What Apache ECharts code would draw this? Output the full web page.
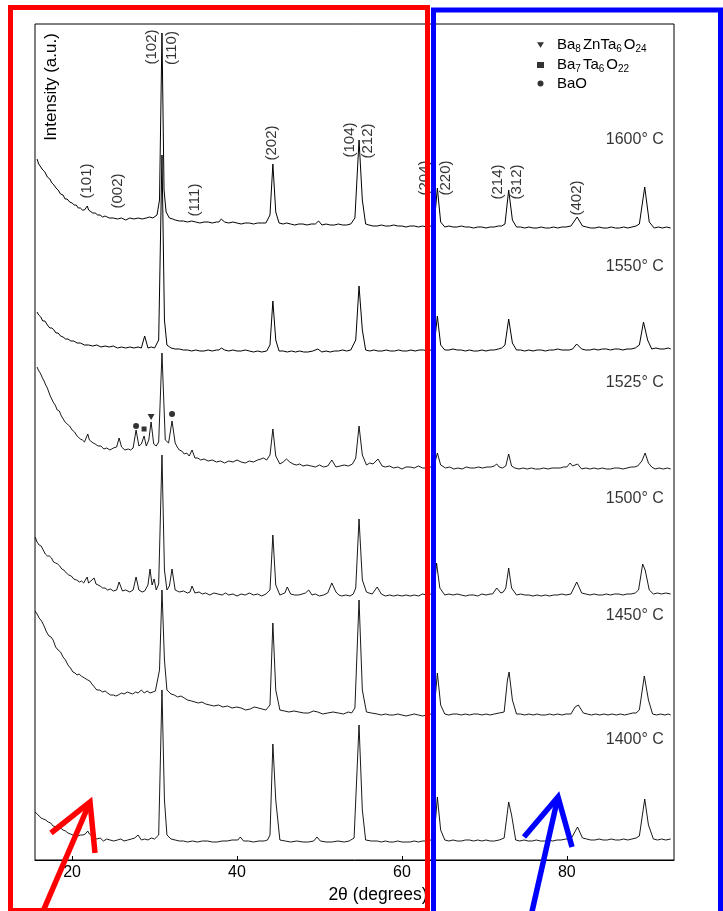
<!DOCTYPE html>
<html><head><meta charset="utf-8">
<script src="https://cdn.jsdelivr.net/npm/echarts@6/dist/echarts.min.js"></script>
<style>html,body{margin:0;padding:0;background:#fff}#c{width:723px;height:911px}</style>
</head><body><div id="c"></div>
<script>
// Temperatures (top to bottom) and stacking offsets (a.u.)
const temperatures = ['1600° C', '1550° C', '1525° C', '1500° C', '1450° C', '1400° C'];
const offsets = [633, 510, 392, 265, 146, 20];
const tempLabelHeight = [87, 83, 85, 96, 98, 100];

// Patterns: [2θ, intensity above baseline]
const p1600 = [[15.75,68],[15.95,63],[16.2,60],[16.45,57],[16.7,55],[17.0,50],[17.3,48],[17.55,44],[17.8,42],[18.05,39],[18.3,37],[18.6,33],[18.9,32],[19.15,28],[19.4,28],[19.7,25],[20.0,24],[20.25,22],[20.5,22],[20.75,19],[21.0,19],[21.25,17],[21.5,17],[21.7,19],[21.85,21],[22.0,17],[22.2,15],[22.5,14],[22.8,14],[23.1,12],[23.4,12],[23.7,10],[24.0,11],[24.5,9],[25.0,9],[25.5,8],[26.0,9],[26.5,7],[27.0,9],[27.5,8],[28.0,9],[28.5,8],[29.0,9],[29.4,10],[29.8,9],[30.3,12],[30.6,27],[30.9,194],[31.15,37],[31.4,15],[31.8,9],[32.2,8],[32.5,7],[33.0,6],[33.5,6],[34.0,5],[34.5,6],[35.0,5],[35.5,4],[36.0,5],[36.5,5],[37.0,4],[37.5,5],[37.8,5],[38.1,8],[38.5,5],[39.0,4],[39.5,5],[40.0,4],[40.5,3],[41.0,4],[41.5,4],[42.0,3],[42.5,4],[43.0,4],[43.5,4],[44.0,12],[44.35,63],[44.7,15],[45.1,4],[45.6,3],[46.0,4],[46.5,3],[47.0,2],[47.5,3],[48.0,3],[48.5,2],[49.0,3],[49.5,3],[49.9,6],[50.3,2],[50.8,3],[51.3,2],[51.8,2],[52.3,3],[52.8,2],[53.3,2],[53.8,3],[54.3,9],[54.8,87],[55.2,27],[55.6,3],[56.0,2],[56.5,1],[57.0,1],[57.5,2],[58.0,1],[58.5,1],[59.0,2],[59.5,1],[60.0,1],[60.5,0],[61.0,1],[61.5,1],[62.0,0],[62.5,1],[63.0,0],[63.5,1],[63.9,2],[64.3,39],[64.7,5],[65.2,0],[65.7,1],[66.2,0],[66.7,0],[67.2,1],[67.7,0],[68.2,0],[68.7,-1],[69.2,0],[69.7,0],[70.2,-1],[70.7,0],[71.2,0],[71.7,1],[72.1,1],[72.5,3],[72.95,37],[73.4,7],[73.9,0],[74.4,0],[74.9,-1],[75.4,0],[75.9,-1],[76.4,-1],[76.9,0],[77.4,-1],[77.9,-1],[78.4,0],[78.9,-1],[79.4,0],[79.9,0],[80.5,1],[81.25,10],[81.9,1],[82.4,0],[82.9,-1],[83.4,-1],[83.9,0],[84.4,-1],[84.9,-1],[85.4,0],[85.9,-1],[86.4,-1],[86.9,0],[87.4,-1],[87.9,0],[88.4,1],[88.8,3],[89.45,40],[90.0,5],[90.6,-1],[91.1,0],[91.6,-1],[92.1,0],[92.6,-1]];
const p1550 = [[15.75,38],[15.95,35],[16.2,33],[16.45,29],[16.7,29],[17.0,25],[17.3,22],[17.55,22],[17.8,20],[18.05,17],[18.3,17],[18.6,14],[18.9,13],[19.2,11],[19.5,11],[19.85,9],[20.2,9],[20.6,7],[21.0,7],[21.5,5],[22.0,5],[22.5,4],[23.0,5],[23.5,3],[24.0,4],[24.5,3],[25.0,4],[25.5,2],[26.0,3],[26.5,2],[27.0,3],[27.5,2],[28.0,3],[28.4,2],[28.8,14],[29.2,2],[29.6,3],[30.0,2],[30.5,10],[30.9,195],[31.2,30],[31.5,5],[32.0,2],[32.5,1],[33.0,1],[33.5,0],[34.0,0],[34.5,-1],[35.0,0],[35.5,-1],[36.0,-1],[36.5,0],[37.0,-1],[37.5,0],[37.8,0],[38.1,2],[38.5,0],[39.0,-1],[39.5,0],[40.0,-1],[40.5,-1],[41.0,0],[41.5,-1],[42.0,-2],[42.5,-1],[43.0,-2],[43.6,-1],[44.0,5],[44.35,49],[44.7,10],[45.1,-1],[45.6,-1],[46.1,-2],[46.6,-1],[47.1,-2],[47.6,-1],[48.1,-2],[48.6,-2],[49.2,-1],[49.8,1],[50.3,-2],[50.8,-1],[51.3,-2],[51.8,-1],[52.3,-1],[52.8,0],[53.3,-1],[53.8,0],[54.4,10],[54.8,64],[55.2,20],[55.6,0],[56.1,-1],[56.6,0],[57.1,-1],[57.6,-1],[58.1,0],[58.6,-1],[59.1,-1],[59.6,0],[60.1,-1],[60.6,-1],[61.1,0],[61.6,-1],[62.1,0],[62.6,0],[63.1,-1],[63.5,0],[63.9,3],[64.3,34],[64.7,5],[65.2,0],[65.7,0],[66.2,1],[66.7,0],[67.2,0],[67.7,-1],[68.2,0],[68.7,-1],[69.2,-1],[69.7,0],[70.2,-1],[70.7,0],[71.2,0],[71.7,1],[72.1,2],[72.5,5],[72.95,31],[73.4,7],[73.9,0],[74.4,0],[74.9,-1],[75.4,0],[75.9,-1],[76.4,0],[76.9,0],[77.4,-1],[77.9,0],[78.4,0],[78.9,1],[79.4,0],[79.9,0],[80.3,0],[80.7,1],[81.2,6],[81.8,1],[82.3,0],[82.8,0],[83.3,1],[83.8,0],[84.3,1],[84.8,1],[85.3,0],[85.8,1],[86.3,1],[86.8,0],[87.3,1],[87.8,1],[88.3,2],[88.8,5],[89.3,28],[89.8,10],[90.3,1],[90.8,2],[91.3,1],[91.8,1],[92.3,2],[92.6,1]];
const p1525 = [[15.75,101],[15.9,98],[16.0,96],[16.2,94],[16.4,90],[16.6,87],[16.8,83],[17.0,80],[17.15,78],[17.3,73],[17.5,72],[17.7,66],[17.95,63],[18.2,58],[18.45,57],[18.7,52],[18.9,51],[19.15,46],[19.4,44],[19.7,42],[20.0,38],[20.3,36],[20.6,32],[20.8,31],[21.0,29],[21.25,28],[21.5,26],[21.7,28],[21.9,34],[22.1,28],[22.3,27],[22.55,25],[22.8,24],[23.15,22],[23.5,22],[23.85,19],[24.2,20],[24.6,18],[25.0,20],[25.4,21],[25.7,30],[26.0,21],[26.4,18],[26.8,19],[27.1,18],[27.4,20],[27.76,38],[28.1,22],[28.4,24],[28.73,32],[29.0,22],[29.3,28],[29.58,46],[29.9,24],[30.2,22],[30.5,26],[30.9,115],[31.3,28],[31.7,25],[32.12,47],[32.5,25],[32.75,21],[33.0,18],[33.3,17],[33.6,14],[33.9,15],[34.2,12],[34.55,18],[34.9,10],[35.25,10],[35.6,8],[36.0,9],[36.5,7],[37.0,8],[37.5,6],[38.0,7],[38.5,5],[39.0,7],[39.5,6],[40.0,8],[40.5,6],[41.0,5],[41.5,7],[42.0,6],[42.5,8],[42.9,9],[43.2,10],[43.6,8],[44.0,13],[44.35,39],[44.7,12],[45.2,4],[45.6,6],[46.0,9],[46.4,6],[46.8,4],[47.2,3],[47.6,4],[48.0,2],[48.5,3],[49.0,2],[49.5,1],[50.0,3],[50.5,1],[51.0,2],[51.5,8],[52.0,1],[52.5,2],[53.0,3],[53.5,2],[54.0,4],[54.4,10],[54.8,42],[55.2,13],[55.7,3],[56.1,5],[56.5,4],[57.1,9],[57.6,2],[58.0,1],[58.5,2],[59.0,0],[59.5,1],[60.0,-1],[60.5,1],[61.0,1],[61.5,0],[62.0,2],[62.5,0],[63.0,0],[63.5,1],[63.9,2],[64.3,15],[64.7,3],[65.3,0],[65.8,1],[66.3,-1],[66.8,0],[67.3,-1],[67.8,1],[68.3,0],[68.8,0],[69.3,1],[69.8,0],[70.3,1],[70.8,1],[71.2,2],[71.5,4],[71.8,1],[72.2,0],[72.6,2],[72.95,14],[73.3,2],[73.7,0],[74.2,-1],[74.7,0],[75.2,-1],[75.7,0],[76.2,-1],[76.7,-1],[77.2,0],[77.7,-1],[78.2,0],[78.7,0],[79.2,0],[79.6,1],[80.0,1],[80.4,5],[80.7,2],[80.9,1],[81.3,4],[81.8,-1],[82.3,0],[82.8,-1],[83.3,0],[83.8,-1],[84.3,0],[84.8,-1],[85.3,-1],[85.8,0],[86.3,0],[86.8,-1],[87.3,0],[87.8,1],[88.2,1],[88.6,2],[89.1,7],[89.5,15],[89.9,5],[90.3,1],[90.7,-1],[91.2,0],[91.7,-1],[92.2,0],[92.6,-1]];
const p1500 = [[15.52,58],[15.75,53],[16.0,50],[16.25,49],[16.5,45],[16.75,41],[17.0,39],[17.25,39],[17.5,37],[17.75,33],[18.0,32],[18.25,31],[18.5,29],[18.75,26],[19.0,25],[19.3,22],[19.6,20],[19.9,19],[20.2,16],[20.55,15],[20.9,13],[21.15,14],[21.4,12],[21.82,18],[22.0,12],[22.2,11],[22.67,17],[22.9,11],[23.1,9],[23.4,9],[23.7,7],[24.0,7],[24.3,5],[24.65,6],[25.0,4],[25.4,5],[25.7,13],[26.1,4],[26.5,5],[27.0,3],[27.4,5],[27.76,18],[28.1,5],[28.5,3],[28.8,4],[29.2,10],[29.45,26],[29.7,10],[29.95,16],[30.2,5],[30.5,11],[30.9,140],[31.2,25],[31.5,5],[31.8,9],[32.12,26],[32.5,5],[32.75,4],[33.0,3],[33.5,4],[34.0,2],[34.3,3],[34.55,9],[34.9,2],[35.4,3],[35.8,1],[36.2,2],[36.7,0],[37.2,2],[37.7,1],[38.2,0],[38.6,2],[39.0,0],[39.5,1],[40.0,-1],[40.5,1],[41.0,0],[41.5,2],[42.0,0],[42.5,1],[43.0,-1],[43.5,1],[44.0,5],[44.35,60],[44.7,10],[45.2,0],[45.5,1],[45.8,2],[46.1,8],[46.5,1],[47.0,0],[47.5,0],[47.9,1],[48.3,2],[48.7,5],[49.1,0],[49.5,1],[50.0,-1],[50.5,0],[51.0,2],[51.5,12],[52.0,3],[52.35,0],[52.7,-1],[53.2,0],[53.7,-1],[54.1,1],[54.4,7],[54.8,76],[55.2,15],[55.7,3],[56.0,2],[56.4,1],[57.0,8],[57.5,1],[58.0,-1],[58.5,0],[59.0,-1],[59.5,0],[60.0,-1],[60.5,0],[61.0,-1],[61.5,0],[62.0,-1],[62.5,1],[63.0,0],[63.5,1],[63.9,3],[64.2,32],[64.6,7],[65.2,0],[65.7,1],[66.2,0],[66.7,1],[67.2,0],[67.7,-1],[68.2,0],[68.7,0],[69.2,-1],[69.7,1],[70.2,0],[70.7,1],[71.0,1],[71.5,7],[72.0,2],[72.3,3],[72.6,7],[72.95,27],[73.3,7],[73.9,0],[74.4,1],[74.9,0],[75.4,0],[75.9,-1],[76.4,0],[76.9,-1],[77.4,0],[77.9,-1],[78.4,0],[78.9,0],[79.4,1],[79.9,0],[80.5,1],[81.2,13],[81.8,2],[82.3,1],[82.8,0],[83.3,1],[83.8,0],[84.3,0],[84.8,1],[85.3,0],[85.8,1],[86.3,1],[86.8,0],[87.3,1],[87.8,1],[88.3,2],[88.7,5],[89.2,31],[89.5,25],[90.0,5],[90.5,1],[91.0,2],[91.5,1],[92.0,2],[92.6,1]];
const p1450 = [[15.52,103],[15.75,100],[16.0,96],[16.3,93],[16.6,88],[16.9,82],[17.2,78],[17.45,77],[17.7,74],[18.0,67],[18.3,64],[18.6,62],[18.9,57],[19.2,54],[19.5,49],[19.8,46],[20.1,42],[20.35,41],[20.6,39],[20.85,40],[21.1,38],[21.3,37],[21.5,36],[21.7,37],[21.9,34],[22.15,33],[22.4,30],[22.7,27],[23.0,24],[23.35,24],[23.7,22],[24.0,23],[24.3,21],[24.65,19],[25.0,19],[25.3,18],[25.6,19],[26.0,21],[26.3,20],[26.7,22],[27.0,21],[27.35,20],[27.7,22],[28.0,21],[28.4,24],[28.75,21],[29.1,23],[29.45,21],[29.8,22],[30.1,23],[30.3,24],[30.6,44],[30.9,124],[31.2,54],[31.5,24],[31.75,22],[32.0,20],[32.4,19],[32.8,17],[33.2,18],[33.6,16],[34.0,14],[34.5,13],[34.9,12],[35.3,11],[35.75,12],[36.2,10],[36.7,9],[37.2,8],[37.75,9],[38.3,7],[38.85,8],[39.4,6],[39.95,7],[40.5,6],[41.05,4],[41.6,5],[42.1,7],[42.6,6],[43.05,5],[43.5,4],[44.0,9],[44.35,91],[44.7,24],[45.2,4],[45.75,3],[46.3,2],[46.9,3],[47.5,2],[48.1,1],[48.7,1],[49.25,3],[49.8,2],[50.4,0],[51.0,1],[51.65,2],[52.3,1],[52.9,0],[53.5,2],[53.9,1],[54.3,6],[54.8,114],[55.2,24],[55.7,2],[56.3,1],[57.0,0],[57.5,-1],[58.0,0],[58.5,-1],[59.0,-1],[59.5,0],[60.0,-1],[60.5,-2],[61.0,-1],[61.5,0],[62.0,-1],[62.5,-2],[63.0,-1],[63.5,0],[63.9,3],[64.3,41],[64.7,9],[65.2,0],[65.7,-1],[66.2,0],[66.7,0],[67.2,-1],[67.7,0],[68.2,-1],[68.7,0],[69.2,0],[69.7,-1],[70.2,0],[70.7,-1],[71.2,0],[71.8,1],[72.4,2],[72.8,34],[73.0,42],[73.4,14],[73.9,0],[74.4,0],[74.9,-1],[75.4,0],[75.9,-1],[76.4,0],[76.9,-1],[77.4,-1],[77.9,0],[78.4,-1],[78.9,0],[79.4,-1],[79.9,0],[80.5,0],[81.0,7],[81.4,9],[82.0,1],[82.5,0],[83.0,-1],[83.5,0],[84.0,-1],[84.5,0],[85.0,-1],[85.5,0],[86.0,-1],[86.5,0],[87.0,-1],[87.5,0],[88.0,1],[88.4,1],[88.8,4],[89.4,38],[89.9,14],[90.4,0],[90.9,-1],[91.4,0],[91.9,-1],[92.3,0],[92.6,-1]];
const p1400 = [[15.52,28],[15.75,26],[16.0,24],[16.25,22],[16.5,21],[16.8,20],[17.1,18],[17.4,17],[17.7,14],[18.0,13],[18.3,11],[18.6,12],[18.9,10],[19.2,9],[19.5,7],[19.8,6],[20.1,5],[20.4,6],[20.7,4],[21.0,5],[21.3,5],[21.6,6],[21.9,9],[22.1,6],[22.3,4],[22.65,3],[23.0,1],[23.4,2],[23.8,-1],[24.2,1],[24.6,0],[25.05,-1],[25.5,0],[25.9,1],[26.3,-1],[26.75,0],[27.2,1],[27.6,2],[28.0,5],[28.4,0],[28.8,1],[29.2,0],[29.6,2],[30.0,1],[30.5,5],[30.9,150],[31.2,40],[31.5,5],[32.0,1],[32.5,0],[33.0,-1],[33.5,-1],[34.0,-2],[34.6,-1],[35.2,-2],[35.8,-1],[36.4,-1],[37.0,-2],[37.6,-2],[38.2,-1],[38.8,-1],[39.4,0],[40.1,0],[40.4,3],[40.8,-1],[41.4,-1],[42.0,-2],[42.65,-1],[43.3,-1],[43.7,0],[44.0,5],[44.35,96],[44.7,40],[45.2,0],[45.85,-1],[46.5,-2],[47.25,-1],[48.0,-2],[48.65,-2],[49.3,-1],[49.7,3],[50.1,-1],[50.8,-2],[51.5,-2],[52.25,-1],[53.0,-2],[53.6,-1],[54.2,2],[54.8,115],[55.2,30],[55.6,0],[56.3,-1],[57.0,-1],[57.5,-2],[58.0,-1],[58.5,-2],[59.0,-2],[59.5,-1],[60.0,-2],[60.5,-2],[61.0,-2],[61.5,-1],[62.0,-2],[62.5,-1],[63.0,-1],[63.5,0],[63.9,2],[64.3,43],[64.7,10],[65.2,0],[65.7,-1],[66.2,0],[66.7,-1],[67.2,-1],[67.7,0],[68.2,0],[68.7,-1],[69.2,0],[69.7,-1],[70.2,0],[70.7,-1],[71.2,-1],[71.8,0],[72.4,2],[72.95,38],[73.3,25],[73.8,0],[74.3,-1],[74.8,0],[75.3,-1],[75.8,-1],[76.3,0],[76.8,-1],[77.3,-1],[77.8,0],[78.3,-1],[78.8,0],[79.3,0],[79.9,1],[80.5,1],[81.3,13],[81.9,2],[82.4,1],[82.9,0],[83.4,0],[83.9,1],[84.4,0],[84.9,0],[85.4,1],[85.9,0],[86.4,0],[86.9,1],[87.4,0],[87.9,1],[88.4,2],[88.8,4],[89.45,41],[89.9,15],[90.5,1],[91.0,0],[91.5,1],[92.0,0],[92.6,1]];
const patterns = [p1600, p1550, p1525, p1500, p1450, p1400];

// Reflection indices on the 1600 °C pattern
const hklNames = ['(101)','(002)','(102)','(110)','(111)','(202)','(104)','(212)','(204)','(220)','(214)','(312)','(402)'];
const hklTth = [21.82, 25.58, 29.70, 32.12, 34.91, 44.24, 53.70, 55.88, 62.79, 65.33, 71.64, 73.94, 81.21];
const hklHeight = [46, 36, 180, 179, 27, 84, 87, 86, 49, 49, 45, 45, 29];

// Secondary phase markers on the 1525 °C pattern
const phaseNames = ['Ba8ZnTa6O24', 'Ba7Ta6O22', 'BaO'];
const markerPhase = ['BaO', 'Ba7Ta6O22', 'Ba8ZnTa6O24', 'BaO'];
const markerTth = [27.76, 28.73, 29.58, 32.12];
const markerHeight = [42, 39, 51, 54];

const xTicks = [20, 40, 60, 80];

const FONT = '"Liberation Sans", Arial, Helvetica, sans-serif';
const chart = echarts.init(document.getElementById('c'), null, {renderer: 'canvas'});

const lineSeries = patterns.map((pts, i) => ({
  name: temperatures[i], type: 'line', symbol: 'none', silent: true,
  data: pts.map(p => [p[0], p[1] + offsets[i]]),
  lineStyle: {color: '#000', width: i < 2 ? 1 : 0.9}, z: 2
}));

const symbolOf = {'Ba8ZnTa6O24': 'triangle', 'Ba7Ta6O22': 'rect', 'BaO': 'circle'};
const sizeOf = {'Ba8ZnTa6O24': [7, 6], 'Ba7Ta6O22': 5, 'BaO': 6};
const markerSeries = phaseNames.map(ph => ({
  name: ph, type: 'scatter', symbol: symbolOf[ph], symbolSize: sizeOf[ph],
  symbolRotate: ph === 'Ba8ZnTa6O24' ? 180 : 0, silent: true,
  itemStyle: {color: '#000'},
  data: markerTth.map((t, k) => markerPhase[k] === ph ? [t, offsets[2] + markerHeight[k]] : null).filter(Boolean),
  z: 3
}));

const hklSeries = {
  type: 'scatter', symbolSize: 0, silent: true,
  data: hklNames.map((n, k) => ({name: n, value: [hklTth[k], offsets[0] + hklHeight[k]]})),
  label: {show: true, position: 'inside', rotate: 90, formatter: p => p.name,
    fontFamily: FONT, fontSize: 15, color: '#000', align: 'center', verticalAlign: 'middle'},
  z: 4
};

const tempSeries = {
  type: 'scatter', symbolSize: 0, silent: true,
  data: temperatures.map((n, k) => ({name: n, value: [91.76, offsets[k] + tempLabelHeight[k]]})),
  label: {show: true, position: 'inside', formatter: p => p.name,
    fontFamily: FONT, fontSize: 16, color: '#000', align: 'right', verticalAlign: 'middle'},
  z: 4
};

const legendRich = {
  'Ba8ZnTa6O24': '{n|Ba}{s|8}{n|ZnTa}{s|6}{n|O}{s|24}',
  'Ba7Ta6O22': '{n|Ba}{s|7}{n|Ta}{s|6}{n|O}{s|22}',
  'BaO': '{n|BaO}'
};

chart.setOption({
  animation: false,
  backgroundColor: '#fff',
  textStyle: {fontFamily: FONT},
  grid: {left: 35, right: 49, top: 24, bottom: 51, show: true, borderColor: '#000', borderWidth: 1, backgroundColor: 'transparent'},
  xAxis: {
    type: 'value', min: 15.5, max: 93.0,
    name: '2θ (degrees)', nameLocation: 'middle', nameGap: 24,
    nameTextStyle: {fontFamily: FONT, fontSize: 17.5, color: '#000', padding: [0, 0, 0, 47]},
    axisLine: {show: true, lineStyle: {color: '#000', width: 1}},
    axisTick: {show: true, inside: true, length: 4, customValues: xTicks, lineStyle: {color: '#000'}},
    axisLabel: {show: true, customValues: xTicks, fontFamily: FONT, fontSize: 16, color: '#000', margin: 5},
    splitLine: {show: false}
  },
  yAxis: {type: 'value', min: 0, max: 836, show: false, splitLine: {show: false}},
  legend: {
    data: [
      {name: 'Ba8ZnTa6O24', icon: 'path://M0,0L10,0L5,8Z'},
      {name: 'Ba7Ta6O22', icon: 'rect'},
      {name: 'BaO', icon: 'circle'}
    ],
    orient: 'vertical', left: 537, top: 36, padding: 0, itemGap: 2,
    itemWidth: 7, itemHeight: 6, selectedMode: false,
    formatter: n => legendRich[n],
    textStyle: {color: '#000', padding: [0, 0, 0, 8],
      rich: {
        n: {fontFamily: FONT, fontSize: 15, lineHeight: 18, color: '#000', verticalAlign: 'middle'},
        s: {fontFamily: FONT, fontSize: 10, lineHeight: 18, color: '#000', verticalAlign: 'middle', padding: [8, 2, 0, 0]}
      }}
  },
  series: [...lineSeries, ...markerSeries, hklSeries, tempSeries],
  graphic: [
    {type: 'text', x: 51, y: 87, rotation: Math.PI / 2, z: 10,
      style: {text: 'Intensity (a.u.)', font: '17px ' + FONT, fill: '#000', align: 'center', verticalAlign: 'middle'}},
    {type: 'rect', z: 100, silent: true, shape: {x: 10.5, y: 7.5, width: 417, height: 903},
      style: {fill: 'none', stroke: '#ff0000', lineWidth: 5}},
    {type: 'rect', z: 100, silent: true, shape: {x: 433.5, y: 10, width: 287, height: 906},
      style: {fill: 'none', stroke: '#0000ff', lineWidth: 5}},
    {type: 'polyline', z: 100, silent: true, shape: {points: [[41, 916], [90, 802]]},
      style: {stroke: '#ff0000', lineWidth: 5.5, fill: 'none'}},
    {type: 'polyline', z: 100, silent: true, shape: {points: [[51, 833], [90, 802], [95, 853]]},
      style: {stroke: '#ff0000', lineWidth: 5.5, fill: 'none', lineJoin: 'miter'}},
    {type: 'polyline', z: 100, silent: true, shape: {points: [[531, 916], [558, 797]]},
      style: {stroke: '#0000ff', lineWidth: 5.5, fill: 'none'}},
    {type: 'polyline', z: 100, silent: true, shape: {points: [[524, 837], [558, 797], [572, 847]]},
      style: {stroke: '#0000ff', lineWidth: 5.5, fill: 'none', lineJoin: 'miter'}}
  ]
});
</script>
</body></html>
